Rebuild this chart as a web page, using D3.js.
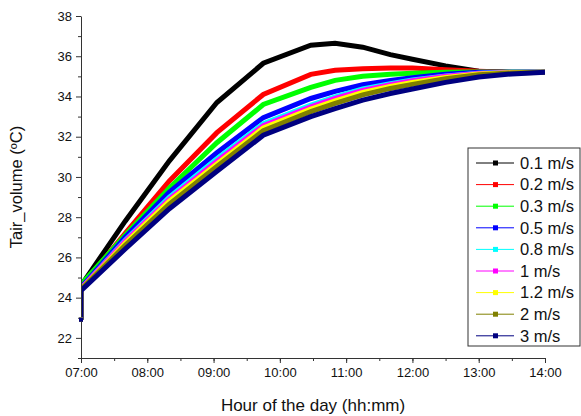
<!DOCTYPE html>
<html>
<head>
<meta charset="utf-8">
<script src="https://cdn.jsdelivr.net/npm/d3@7"></script>
<style>
  body { margin: 0; background: #fff; }
  text { font-family: "Liberation Sans", Arial, sans-serif; }
</style>
</head>
<body>
<div id="chart"></div>
<script>
// Sample times (hh:mm), first two are the initial jump at 07:00
const times = ["07:00", "07:00", "07:40", "08:20", "09:03", "09:45", "10:28", "10:50",
  "11:15", "11:40", "12:00", "12:30", "13:00", "13:30", "14:00"];

// Air velocity cases
const speeds = ["0.1 m/s", "0.2 m/s", "0.3 m/s", "0.5 m/s", "0.8 m/s", "1 m/s", "1.2 m/s", "2 m/s", "3 m/s"];
const colors = ["#000000", "#ff0000", "#00ff00", "#0000ff", "#00ffff", "#ff00ff", "#ffff00", "#808000", "#000080"];

// Tair_volume (ºC) for each case
const v01 = [22.9, 24.6, 27.8, 30.8, 33.7, 35.65, 36.55, 36.65, 36.45, 36.08, 35.85, 35.52, 35.25, 35.2, 35.2];
const v02 = [22.9, 24.5, 27.2, 29.8, 32.2, 34.1, 35.1, 35.3, 35.38, 35.42, 35.41, 35.33, 35.25, 35.2, 35.2];
const v03 = [22.9, 24.65, 27.1, 29.45, 31.7, 33.6, 34.45, 34.8, 35.0, 35.1, 35.15, 35.2, 35.22, 35.2, 35.2];
const v05 = [22.9, 24.5, 27.0, 29.25, 31.2, 32.95, 33.9, 34.25, 34.58, 34.8, 34.93, 35.1, 35.2, 35.2, 35.2];
const v08 = [22.9, 24.45, 26.85, 29.0, 30.9, 32.65, 33.57, 33.98, 34.38, 34.64, 34.82, 35.02, 35.16, 35.2, 35.2];
const v1 = [22.9, 24.45, 26.8, 28.9, 30.78, 32.55, 33.48, 33.9, 34.3, 34.58, 34.78, 35.0, 35.14, 35.19, 35.2];
const v12 = [22.9, 24.4, 26.7, 28.8, 30.65, 32.43, 33.37, 33.78, 34.2, 34.5, 34.7, 34.95, 35.12, 35.18, 35.2];
const v2 = [22.9, 24.4, 26.6, 28.65, 30.52, 32.3, 33.25, 33.66, 34.08, 34.4, 34.6, 34.88, 35.08, 35.17, 35.2];
const v3 = [22.9, 24.35, 26.42, 28.42, 30.28, 32.07, 33.0, 33.4, 33.82, 34.15, 34.37, 34.7, 34.97, 35.12, 35.2];
const seriesValues = [v01, v02, v03, v05, v08, v1, v12, v2, v3];

// Margins and dimensions for the chart
const margin = { top: 16, right: 36, bottom: 58, left: 81 };
const width = 581 - margin.left - margin.right;
const height = 416 - margin.top - margin.bottom;

const svg = d3
  .select("#chart")
  .append("svg")
  .attr("width", 581)
  .attr("height", 416)
  .append("g")
  .attr("transform", `translate(${margin.left},${margin.top})`);

// Clip the thick lines to the plot area
svg
  .append("clipPath")
  .attr("id", "plot-clip")
  .append("rect")
  .attr("width", width)
  .attr("height", height);

const parseTime = d3.timeParse("%H:%M");
const dates = times.map(parseTime);

// Scales
const x = d3
  .scaleTime()
  .domain([parseTime("07:00"), parseTime("14:00")])
  .range([0, width]);
const y = d3.scaleLinear().domain([21, 38]).range([height, 0]);

// Lines, slowest first so the 3 m/s line ends up on top
const line = d3
  .line()
  .x((d) => x(d.date))
  .y((d) => y(d.value));

const plot = svg.append("g").attr("clip-path", "url(#plot-clip)");
seriesValues.forEach((vals, i) => {
  const data = vals.map((v, j) => ({ date: dates[j], value: v }));
  plot
    .append("path")
    .datum(data)
    .attr("fill", "none")
    .attr("stroke", colors[i])
    .attr("stroke-width", 5)
    .attr("d", line);
});

// Minor ticks
svg
  .append("g")
  .attr("transform", `translate(0,${height})`)
  .call(d3.axisBottom(x).ticks(d3.timeMinute.every(30)).tickSize(3).tickFormat(""))
  .call((g) => g.select(".domain").remove());
svg
  .append("g")
  .call(d3.axisLeft(y).tickValues(d3.range(21, 38, 2)).tickSize(3).tickFormat(""))
  .call((g) => g.select(".domain").remove());

// Major axes
const xAxis = svg
  .append("g")
  .attr("transform", `translate(0,${height})`)
  .call(
    d3.axisBottom(x).ticks(d3.timeHour.every(1)).tickSize(5).tickSizeOuter(0).tickFormat(d3.timeFormat("%H:%M"))
  );
const yAxis = svg
  .append("g")
  .call(d3.axisLeft(y).tickValues(d3.range(22, 39, 2)).tickSize(5).tickSizeOuter(0));

[xAxis, yAxis].forEach((g) => {
  g.selectAll("text").attr("font-size", 13).attr("fill", "#111");
  g.selectAll("line, path").attr("stroke", "#333");
});
xAxis.selectAll("text").attr("dy", "0.95em").attr("y", 7);
yAxis.selectAll("text").attr("x", -9);
svg.selectAll(".tick line").attr("stroke", "#333");

// Symbol at the starting point of each series
seriesValues.forEach((vals, i) => {
  svg
    .append("rect")
    .attr("x", x(dates[0]) - 2)
    .attr("y", y(vals[0]) - 2)
    .attr("width", 4)
    .attr("height", 4)
    .attr("fill", colors[i]);
});

// Axis titles
svg
  .append("text")
  .attr("x", width / 2)
  .attr("y", height + 53)
  .attr("text-anchor", "middle")
  .attr("font-size", 17)
  .attr("fill", "#111")
  .text("Hour of the day (hh:mm)");
svg
  .append("text")
  .attr("transform", `translate(${-59},${height / 2}) rotate(-90)`)
  .attr("text-anchor", "middle")
  .attr("font-size", 16.5)
  .attr("fill", "#111")
  .text("Tair_volume (ºC)");

// Legend box
const legend = svg.append("g").attr("transform", `translate(${468 - margin.left},${148 - margin.top})`);
legend
  .append("rect")
  .attr("width", 112)
  .attr("height", 198)
  .attr("fill", "#fff")
  .attr("stroke", "#333");

const rowH = 21.6;
const rows = legend
  .selectAll("g.row")
  .data(speeds)
  .enter()
  .append("g")
  .attr("class", "row")
  .attr("transform", (d, i) => `translate(0,${15 + i * rowH})`);
rows
  .append("line")
  .attr("x1", 8)
  .attr("x2", 46)
  .attr("stroke", (d, i) => colors[i])
  .attr("stroke-width", 1);
rows
  .append("rect")
  .attr("x", 25)
  .attr("y", -2.5)
  .attr("width", 5)
  .attr("height", 5)
  .attr("fill", (d, i) => colors[i]);
rows
  .append("text")
  .attr("x", 52)
  .attr("dy", "0.35em")
  .attr("font-size", 16.5)
  .attr("fill", "#111")
  .text((d) => d);
</script>
</body>
</html>
